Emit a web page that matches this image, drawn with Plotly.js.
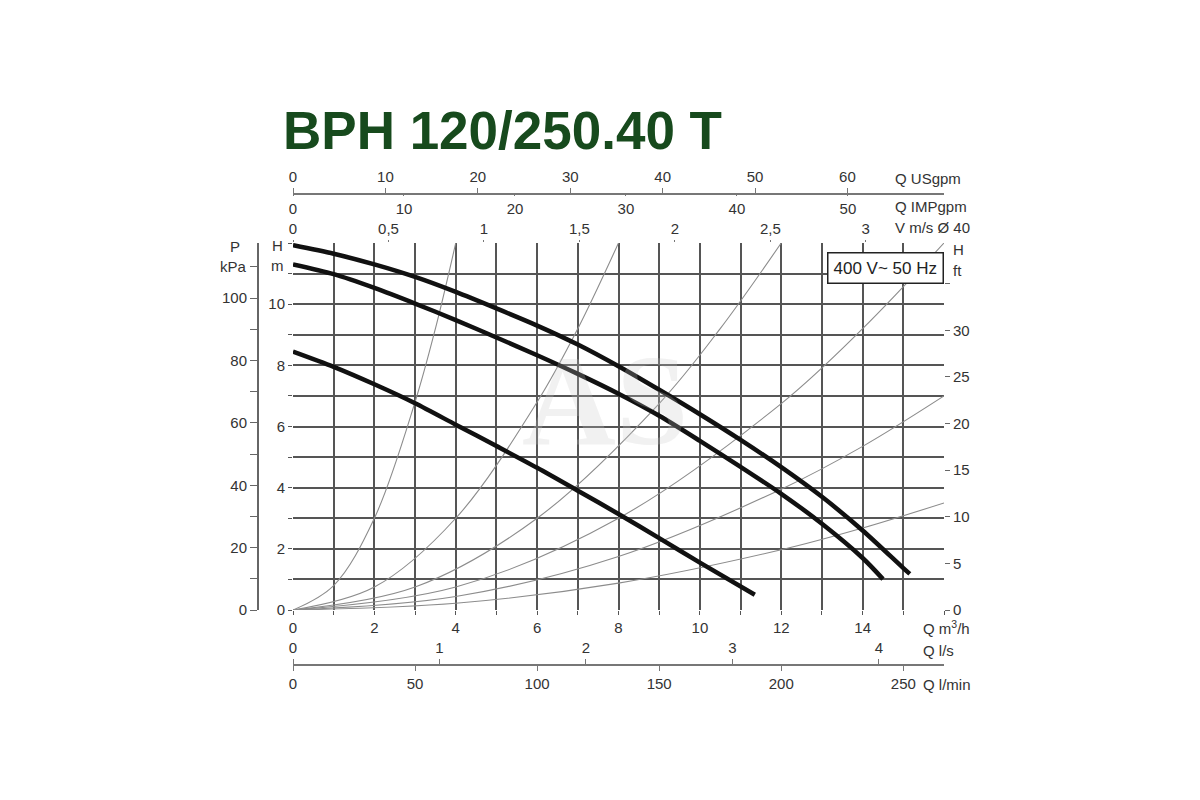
<!DOCTYPE html>
<html>
<head>
<meta charset="utf-8">
<script src="https://cdn.plot.ly/plotly-3.0.1.min.js"></script>
<style>
  html, body { margin: 0; padding: 0; background: #ffffff; }
  #chart { width: 1200px; height: 800px; }
</style>
</head>
<body>
<div id="chart"></div>
<script>
// ---------------- data ----------------
const chartTitle = "BPH 120/250.40 T";
const legendText = "400 V~ 50 Hz";

// Pump curves: Q in m3/h, H in m
const pumpQ1 = [0, 1, 2, 3, 4, 5, 6, 7, 8, 9, 10, 11, 12, 13, 14, 15, 15.16];
const pumpH1 = [11.93, 11.65, 11.3, 10.89, 10.4, 9.86, 9.3, 8.68, 7.97, 7.2, 6.4, 5.56, 4.67, 3.7, 2.6, 1.37, 1.18];
const pumpQ2 = [0, 1, 2, 3, 4, 5, 6, 7, 8, 9, 10, 11, 12, 13, 14, 14.5];
const pumpH2 = [11.3, 10.98, 10.53, 10.02, 9.48, 8.91, 8.33, 7.72, 7.07, 6.35, 5.53, 4.68, 3.8, 2.82, 1.7, 1.01];
const pumpQ3 = [0, 1, 2, 3, 4, 5, 6, 7, 8, 9, 10, 11.35];
const pumpH3 = [8.45, 7.95, 7.38, 6.76, 6.06, 5.36, 4.65, 3.9, 3.14, 2.35, 1.55, 0.5];

// System (velocity) curves, thin gray
const sysQ1 = [0, 1, 2, 3, 3.5, 4.0];
const sysH1 = [0, 0.8, 3.0, 6.8, 9.2, 12];
const sysQ2 = [0, 2, 4, 6, 7, 8];
const sysH2 = [0, 0.75, 3.0, 6.8, 9.2, 12];
const sysQ3 = [0, 3, 6, 9, 10.5, 12];
const sysH3 = [0, 0.75, 3.0, 6.75, 9.2, 12];
const sysQ4 = [0, 4, 8, 12, 14, 16];
const sysH4 = [0, 0.75, 3.0, 6.75, 9.2, 12];
const sysQ5 = [0, 4, 8, 12, 14, 16];
const sysH5 = [0, 0.44, 1.75, 3.95, 5.35, 7.0];
const sysQ6 = [0, 4, 8, 12, 14, 16];
const sysH6 = [0, 0.22, 0.88, 1.97, 2.68, 3.5];

// Axis ticks
const qTickVals = [0,1,2,3,4,5,6,7,8,9,10,11,12,13,14,15,16];
const qTickText = ["0","","2","","4","","6","","8","","10","","12","","14","",""];
const hTickVals = [0,1,2,3,4,5,6,7,8,9,10,11,12];
const hTickText = ["0","","2","","4","","6","","8","","10","",""];
const kpaTickVals = [0,10,20,30,40,50,60,70,80,90,100,110];
const kpaTickText = ["0","","20","","40","","60","","80","","100",""];
const ftTickVals = [0,5,10,15,20,25,30,35];
const ftTickText = ["0","5","10","15","20","25","30",""];
const usgpmTickVals = [0,10,20,30,40,50,60];
const impgpmTickVals = [0,10,20,30,40,50];
const velTickVals = [0,0.5,1,1.5,2,2.5,3];
const velTickText = ["0","0,5","1","1,5","2","2,5","3"];
const lsTickVals = [0,1,2,3,4];
const lminTickVals = [0,50,100,150,200,250];

// Unit conversions (per m3/h, per m)
const qMax = 16, hMax = 12;
const USGPM_PER_M3H = 4.4029, IMPGPM_PER_M3H = 3.6661, VEL_PER_M3H = 0.2131;
const LS_PER_M3H = 1/3.6, LMIN_PER_M3H = 1000/60;
const KPA_PER_M = 9.80665, FT_PER_M = 1/0.3048;

// ---------------- layout helpers ----------------
const W = 1200, H = 800;
const px = v => v / W;
const py = v => 1 - v / H;
const FONT = "Liberation Sans, Arial, sans-serif";
const tickFont = {family: FONT, size: 15, color: "#333"};
const gridColor = "#555";

const pumpLine = {color: "#111", width: 4.5, shape: "spline", smoothing: 0.8};
const sysLine = {color: "#8c8c8c", width: 1.1, shape: "spline", smoothing: 1};

const traces = [];
[[sysQ1,sysH1],[sysQ2,sysH2],[sysQ3,sysH3],[sysQ4,sysH4],[sysQ5,sysH5],[sysQ6,sysH6]].forEach(([q,h]) => {
  traces.push({x:q, y:h, mode:"lines", line:sysLine, hoverinfo:"skip", showlegend:false});
});
[[pumpQ1,pumpH1],[pumpQ2,pumpH2],[pumpQ3,pumpH3]].forEach(([q,h]) => {
  traces.push({x:q, y:h, mode:"lines", line:pumpLine, hoverinfo:"skip", showlegend:false});
});
// helper empty traces so every secondary axis is registered
[["x2","y"],["x3","y"],["x4","y"],["x5","y"],["x6","y"],["x","y2"],["x","y3"]].forEach(([xa,ya]) => {
  traces.push({x:[], y:[], xaxis:xa, yaxis:ya, mode:"lines", showlegend:false, hoverinfo:"skip"});
});

const dom = [px(293), px(944)];
const ydom = [py(610), py(243)];

const layout = {
  width: W, height: H,
  margin: {l:0, r:0, t:0, b:0, pad:0},
  paper_bgcolor: "#fff", plot_bgcolor: "#fff",
  showlegend: false,
  title: {text: chartTitle, x: px(283), xanchor:"left", y: py(130), yanchor:"middle",
          font: {family: FONT, size: 53, color: "#174a1d", weight: "bold"}},
  xaxis: {
    domain: dom, range:[0,qMax], tickmode:"array", tickvals:qTickVals, ticktext:qTickText,
    showgrid:true, gridcolor:gridColor, gridwidth:2, zeroline:false, showline:false,
    ticks:"outside", ticklen:4, tickcolor:gridColor, tickfont:tickFont, fixedrange:true,
    anchor:"y", side:"bottom"
  },
  yaxis: {
    domain: ydom, range:[0,hMax], tickmode:"array", tickvals:hTickVals, ticktext:hTickText,
    showgrid:true, gridcolor:gridColor, gridwidth:2, zeroline:false, showline:false,
    ticks:"outside", ticklen:4, tickcolor:gridColor, tickfont:tickFont, fixedrange:true, anchor:"x"
  },
  // P kPa axis on the far left
  yaxis2: {
    overlaying:"y", anchor:"free", position: px(257), side:"left",
    range:[0, hMax*KPA_PER_M], tickmode:"array", tickvals:kpaTickVals, ticktext:kpaTickText,
    showgrid:false, zeroline:false, showline:true, linecolor:"#666", linewidth:1.5,
    ticks:"outside", ticklen:7, tickcolor:"#666", tickfont:tickFont, fixedrange:true
  },
  // H ft axis on the right
  yaxis3: {
    overlaying:"y", anchor:"x", side:"right",
    range:[0, hMax*FT_PER_M], tickmode:"array", tickvals:ftTickVals, ticktext:ftTickText,
    showgrid:false, zeroline:false, showline:false,
    ticks:"outside", ticklen:5, tickcolor:"#666", tickfont:tickFont, fixedrange:true
  },
  // Q US gpm (top line, labels above)
  xaxis2: {
    overlaying:"x", anchor:"free", position: py(193), side:"top",
    range:[0, qMax*USGPM_PER_M3H], tickmode:"array", tickvals:usgpmTickVals,
    showgrid:false, zeroline:false, showline:true, linecolor:"#777", linewidth:1.5,
    ticks:"outside", ticklen:5, tickcolor:"#777", tickfont:tickFont, fixedrange:true
  },
  // Q IMP gpm (same line, labels below)
  xaxis3: {
    overlaying:"x", anchor:"free", position: py(193), side:"bottom",
    range:[0, qMax*IMPGPM_PER_M3H], tickmode:"array", tickvals:impgpmTickVals,
    showgrid:false, zeroline:false, showline:false,
    ticks:"outside", ticklen:2, tickcolor:"#777", tickfont:tickFont, fixedrange:true
  },
  // V m/s on top of plot
  xaxis4: {
    overlaying:"x", anchor:"y", side:"top",
    range:[0, qMax*VEL_PER_M3H], tickmode:"array", tickvals:velTickVals, ticktext:velTickText,
    showgrid:false, zeroline:false, showline:false,
    ticks:"outside", ticklen:2, tickcolor:"#777", tickfont:tickFont, fixedrange:true
  },
  // Q l/s (bottom line, labels above)
  xaxis5: {
    overlaying:"x", anchor:"free", position: py(664), side:"top",
    range:[0, qMax*LS_PER_M3H], tickmode:"array", tickvals:lsTickVals,
    showgrid:false, zeroline:false, showline:true, linecolor:"#777", linewidth:1.5,
    ticks:"outside", ticklen:5, tickcolor:"#777", tickfont:tickFont, fixedrange:true
  },
  // Q l/min (same line, labels below)
  xaxis6: {
    overlaying:"x", anchor:"free", position: py(664), side:"bottom",
    range:[0, qMax*LMIN_PER_M3H], tickmode:"array", tickvals:lminTickVals,
    showgrid:false, zeroline:false, showline:false,
    ticks:"outside", ticklen:6, tickcolor:"#777", tickfont:tickFont, fixedrange:true
  },
  annotations: []
};

function lab(text, x, y, xanchor, size) {
  layout.annotations.push({
    text: text, xref:"paper", yref:"paper", x: px(x), y: py(y),
    xanchor: xanchor || "left", yanchor:"middle", showarrow:false,
    font: {family: FONT, size: size || 15, color:"#333"}
  });
}
lab("Q USgpm", 893, 178);
lab("Q IMPgpm", 893, 206);
lab("V m/s Ø 40", 893, 228);
lab("Q m<sup>3</sup>/h", 921, 627);
lab("Q l/s", 921, 650);
lab("Q l/min", 921, 684);
lab("P", 242, 246, "right");
lab("kPa", 249, 266, "right");
lab("H", 277, 245, "center");
lab("m", 277, 265, "center");
lab("H", 951, 249, "left");
lab("ft", 951, 270, "left");

// legend box
layout.annotations.push({
  text: legendText, xref:"paper", yref:"paper", x: px(885), y: py(268),
  xanchor:"center", yanchor:"middle", showarrow:false,
  font:{family: FONT, size: 17, color:"#222"},
  bgcolor:"#fff", bordercolor:"#222", borderwidth:1.5, borderpad:5
});
// faint watermark
layout.annotations.push({
  text: "<b>AS</b>", xref:"paper", yref:"paper", x: px(605), y: py(400),
  xanchor:"center", yanchor:"middle", showarrow:false,
  font:{family:"Liberation Serif, DejaVu Serif, serif", size: 130, color:"rgba(200,200,200,0.25)"}
});

Plotly.newPlot("chart", traces, layout, {staticPlot:true, displayModeBar:false});
</script>
</body>
</html>
